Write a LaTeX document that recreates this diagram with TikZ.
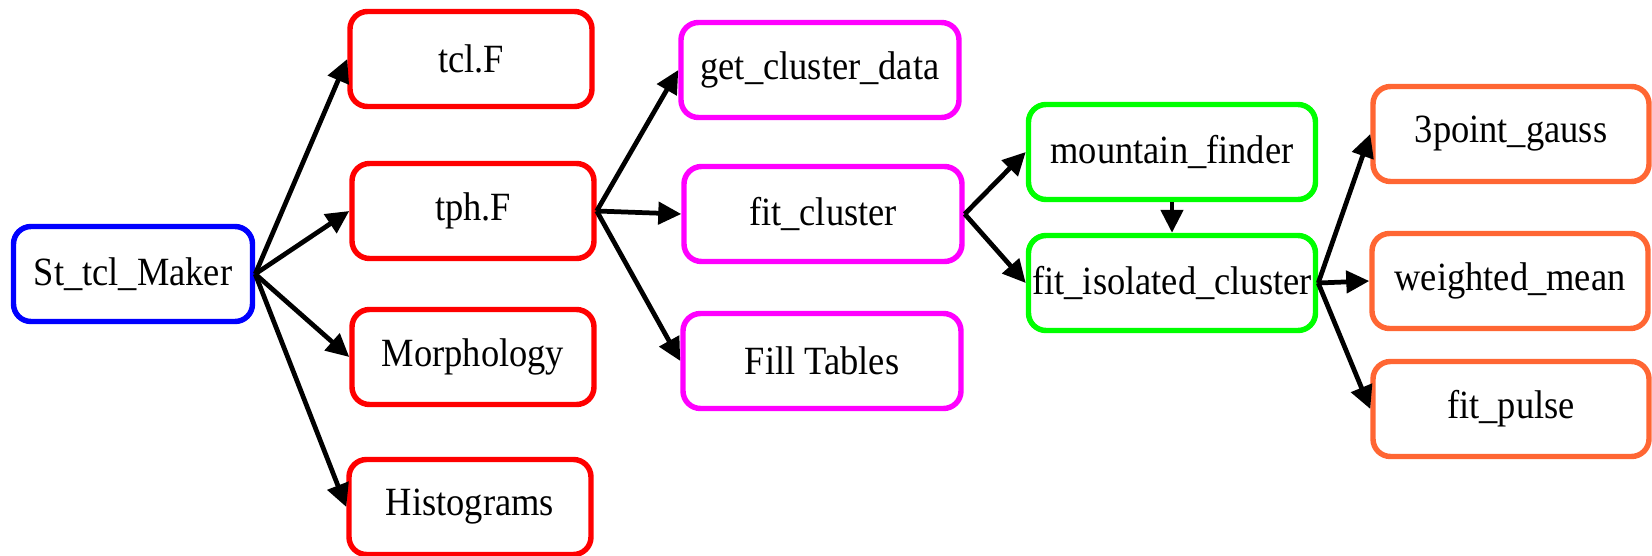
\documentclass[tikz,border=0pt]{standalone}
\usepackage{fontspec}
\setmainfont{Liberation Serif}[FakeStretch=0.91]
\usetikzlibrary{arrows.meta}

\definecolor{tclblue}{RGB}{0,0,255}
\definecolor{tclred}{RGB}{255,0,0}
\definecolor{tclmagenta}{RGB}{255,0,255}
\definecolor{tclgreen}{RGB}{0,255,0}
\definecolor{tclorange}{RGB}{255,102,51}

\begin{document}
\begin{tikzpicture}[
    box/.style={draw, line width=3.1pt, rounded corners=0.35cm,
        minimum height=1.9cm, inner sep=0pt, text=black,
        font=\fontsize{22.8}{27}\selectfont},
    arr/.style={line width=2.7pt,
        -{Triangle[length=0.46cm, width=0.44cm]}}
    ]

    \useasboundingbox (0,0) rectangle (33.04,-11.10);

    % maker
    \node [box, draw=tclblue, minimum width=4.78cm] (maker) at (2.66,-5.48) {St\_tcl\_Maker};

    % first level
    \node [box, draw=tclred, minimum width=4.84cm] (tcl) at (9.42,-1.18) {tcl.F};
    \node [box, draw=tclred, minimum width=4.84cm] (tph) at (9.46,-4.22) {tph.F};
    \node [box, draw=tclred, minimum width=4.84cm] (morph) at (9.46,-7.14) {Morphology};
    \node [box, draw=tclred, minimum width=4.84cm] (hist) at (9.40,-10.14) {Histograms};

    % tph.F
    \node [box, draw=tclmagenta, minimum width=5.56cm] (getdata) at (16.40,-1.40) {get\_cluster\_data};
    \node [box, draw=tclmagenta, minimum width=5.56cm] (fitclus) at (16.46,-4.28) {fit\_cluster};
    \node [box, draw=tclmagenta, minimum width=5.56cm] (filltab) at (16.44,-7.22) {Fill Tables};

    % fit_cluster
    \node [box, draw=tclgreen, minimum width=5.74cm] (mountain) at (23.44,-3.04) {mountain\_finder};
    \node [box, draw=tclgreen, minimum width=5.74cm] (fitiso) at (23.44,-5.66) {fit\_isolated\_cluster};

    % fit_isolated_cluster
    \node [box, draw=tclorange, minimum width=5.52cm] (gauss) at (30.22,-2.68) {3point\_gauss};
    \node [box, draw=tclorange, minimum width=5.52cm] (wmean) at (30.20,-5.62) {weighted\_mean};
    \node [box, draw=tclorange, minimum width=5.52cm] (pulse) at (30.22,-8.18) {fit\_pulse};

    % arrows
    \foreach \t in {tcl,tph,morph,hist}
        \draw [arr] (maker.east) -- (\t.west);
    \foreach \t in {getdata,fitclus,filltab}
        \draw [arr] (tph.east) -- (\t.west);
    \foreach \t in {mountain,fitiso}
        \draw [arr] (fitclus.east) -- (\t.west);
    \draw [arr] (mountain.south) -- (fitiso.north);
    \foreach \t in {gauss,wmean,pulse}
        \draw [arr] (fitiso.east) -- (\t.west);
    \end{tikzpicture}
\end{document}
